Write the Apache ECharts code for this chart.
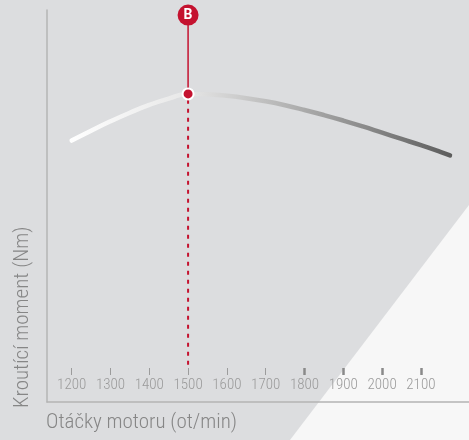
<!DOCTYPE html>
<html>
<head>
<meta charset="utf-8">
<script src="https://cdn.jsdelivr.net/npm/echarts@6/dist/echarts.min.js"></script>
<style>
  html, body { margin: 0; padding: 0; }
  #wrap { position: relative; width: 469px; height: 440px; background: #dcdddf; overflow: hidden; }
  #tri { position: absolute; left: 0; top: 0; width: 469px; height: 440px; background: #f7f7f7;
         clip-path: polygon(469px 205px, 469px 440px, 290px 440px); }
  #chart { position: absolute; left: 0; top: 0; width: 469px; height: 440px; }
</style>
</head>
<body>
<div id="wrap"><div id="tri"></div><div id="chart"></div></div>
<script>
// ---- data ----
const rpm = [1200, 1250, 1300, 1350, 1400, 1450, 1500, 1550, 1600, 1650, 1700, 1750, 1800, 1850, 1900, 1950, 2000, 2050, 2100, 2150, 2175];
const torque = [66.7, 69.2, 71.6, 73.8, 75.8, 77.4, 78.6, 78.5, 78.1, 77.5, 76.7, 75.7, 74.5, 73.2, 71.8, 70.3, 68.7, 67.1, 65.5, 63.8, 62.9];
const tickThin = [1200, 1300, 1400, 1500, 1600, 1700];
const tickThick = [1800, 1900, 2000, 2100];
const tickLabels = [1200, 1300, 1400, 1500, 1600, 1700, 1800, 1900, 2000, 2100];
const peakRpm = 1500;
const peakTorque = 78.6;
const badgeValue = 98.7;
const dashBottom = 9.5;
const badgeText = 'B';
const xTitle = 'Otáčky motoru (ot/min)';
const yTitle = 'Kroutící moment (Nm)';

const RED = '#c4122f';
const FONT = "'Roboto Condensed', 'Liberation Sans Narrow', 'DejaVu Sans Condensed', sans-serif";
const XMIN = 1136.4, XMAX = 2224;

const chart = echarts.init(document.getElementById('chart'), null, { renderer: 'canvas' });
const baseAxis = { type: 'value', position: 'bottom', min: XMIN, max: XMAX, splitLine: { show: false } };
chart.setOption({
  animation: false,
  grid: { left: 47, right: 0, top: 10, bottom: 38 },
  xAxis: [
    Object.assign({}, baseAxis, {
      axisLine: { show: true, lineStyle: { color: '#b4b4b4', width: 1.5 } },
      axisTick: { show: false }, axisLabel: { show: false }
    }),
    Object.assign({}, baseAxis, {
      offset: -27,
      axisLine: { show: false },
      axisTick: { show: true, inside: true, length: 7, customValues: tickThin, lineStyle: { color: '#9c9c9c', width: 1 } },
      axisLabel: { show: true, customValues: tickLabels, formatter: v => String(v), color: '#9a9a9a', fontFamily: FONT, fontWeight: 300, fontSize: 15, margin: 10, verticalAlign: 'middle' }
    }),
    Object.assign({}, baseAxis, {
      offset: -27,
      axisLine: { show: false },
      axisTick: { show: true, inside: true, length: 7, customValues: tickThick, lineStyle: { color: '#8a8a8a', width: 2.5 } },
      axisLabel: { show: false }
    })
  ],
  yAxis: {
    type: 'value', min: 0, max: 100,
    axisLine: { show: true, lineStyle: { color: '#b4b4b4', width: 1.5 } },
    axisTick: { show: false }, axisLabel: { show: false }, splitLine: { show: false }
  },
  graphic: [
    { type: 'text', x: 46, y: 423, style: { text: xTitle, fill: '#868686', font: "300 21px " + FONT, textAlign: 'left', textVerticalAlign: 'middle' } },
    { type: 'text', x: 23, y: 408, rotation: Math.PI / 2, style: { text: yTitle, fill: '#868686', font: "300 21px " + FONT, textAlign: 'left', textVerticalAlign: 'middle' } }
  ],
  series: [
    {
      type: 'line', z: 2, smooth: 0.5, symbol: 'none',
      data: rpm.map((r, i) => [r, torque[i]]),
      lineStyle: {
        width: 4.5, cap: 'round',
        color: new echarts.graphic.LinearGradient(0, 0, 1, 0, [
          { offset: 0, color: '#ffffff' },
          { offset: 0.3, color: '#e8e8e8' },
          { offset: 0.6, color: '#adadad' },
          { offset: 1, color: '#5c5c5c' }
        ])
      }
    },
    {
      type: 'line', z: 3, symbol: 'none',
      data: [[peakRpm, dashBottom], [peakRpm, peakTorque]],
      lineStyle: { color: RED, width: 2, type: [4, 5] }
    },
    {
      type: 'line', z: 3, symbol: 'none',
      data: [[peakRpm, peakTorque], [peakRpm, badgeValue]],
      lineStyle: { color: RED, width: 1.5 }
    },
    {
      type: 'scatter', z: 5,
      data: [[peakRpm, peakTorque]],
      symbolSize: 11,
      itemStyle: { color: RED, borderColor: '#ffffff', borderWidth: 2, opacity: 1 }
    },
    {
      type: 'scatter', z: 5,
      data: [[peakRpm, badgeValue]],
      symbolSize: 21,
      itemStyle: { color: RED, opacity: 1 },
      label: { show: true, position: 'inside', formatter: badgeText, color: '#ffffff', fontWeight: 'bold', fontSize: 14, fontFamily: 'Roboto, sans-serif' }
    }
  ]
});
</script>
</body>
</html>
